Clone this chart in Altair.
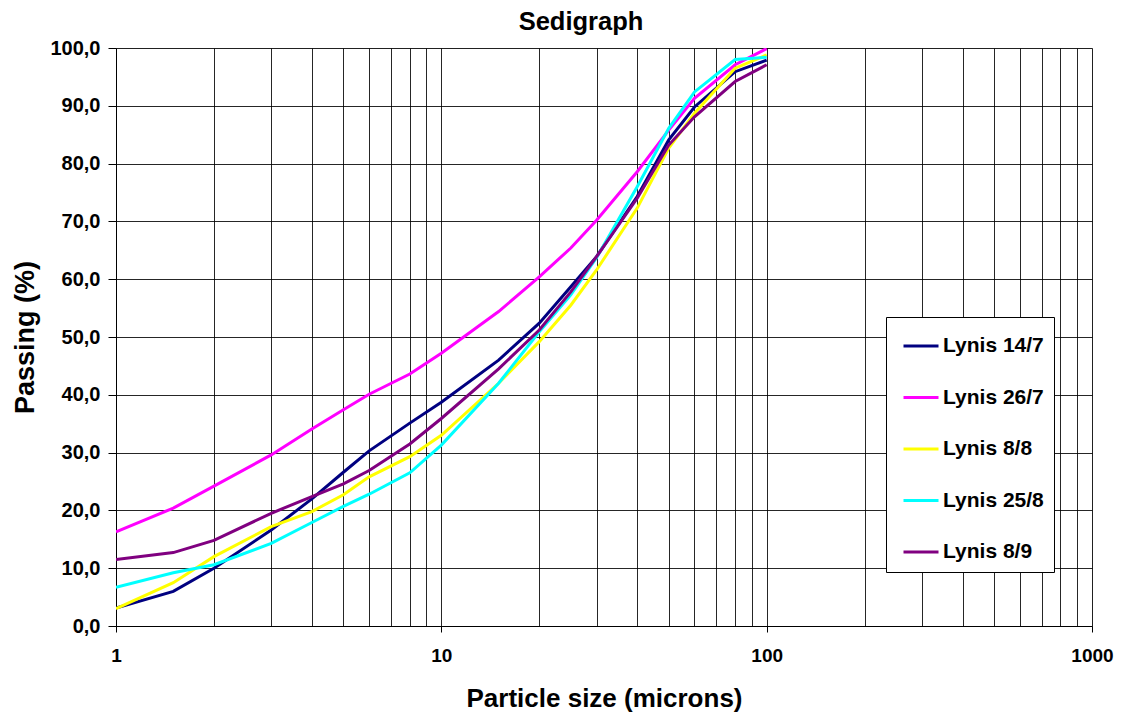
import altair as alt
import pandas as pd

sizes = [1, 1.5, 2, 3, 4, 5, 6, 8, 10, 15, 20, 25, 30, 40, 50, 60, 80, 100]

series_names = ["Lynis 14/7", "Lynis 26/7", "Lynis 8/8", "Lynis 25/8", "Lynis 8/9"]
series_colors = ["#000080", "#FF00FF", "#FFFF00", "#00FFFF", "#800080"]

lynis_14_7 = [3.1, 6.0, 10.0, 16.6, 22.0, 26.6, 30.3, 35.1, 38.7, 46.0, 52.4, 58.7, 63.9, 74.3, 84.1, 89.8, 95.9, 97.9]
lynis_26_7 = [16.3, 20.4, 24.2, 29.6, 34.1, 37.4, 40.1, 43.6, 47.2, 54.4, 60.4, 65.4, 70.2, 78.6, 85.8, 91.3, 97.1, 99.9]
lynis_8_8 = [3.0, 7.5, 12.0, 17.2, 19.8, 22.7, 25.8, 29.3, 33.0, 42.0, 49.2, 55.5, 61.6, 72.3, 82.7, 88.7, 96.5, 98.8]
lynis_25_8 = [6.7, 9.2, 10.6, 14.3, 17.9, 20.7, 22.8, 26.5, 31.3, 42.0, 50.9, 57.3, 63.7, 76.0, 86.1, 92.4, 98.0, 98.4]
lynis_8_9 = [11.5, 12.7, 14.8, 19.5, 22.4, 24.6, 26.9, 31.5, 35.9, 44.5, 51.2, 57.8, 63.9, 74.0, 83.2, 88.1, 94.2, 97.1]

x_grid_values = [1, 2, 3, 4, 5, 6, 7, 8, 9,
                 10, 20, 30, 40, 50, 60, 70, 80, 90,
                 100, 200, 300, 400, 500, 600, 700, 800, 900, 1000]
y_ticks = [0, 10, 20, 30, 40, 50, 60, 70, 80, 90, 100]

all_series = [lynis_14_7, lynis_26_7, lynis_8_8, lynis_25_8, lynis_8_9]
rows = []
for name, vals in zip(series_names, all_series):
    for i, (s, v) in enumerate(zip(sizes, vals)):
        rows.append({"size": s, "passing": v, "series": name, "order": i})
df = pd.DataFrame(rows)

FONT = "Liberation Sans"
major_test = "datum.value == 1 || datum.value == 10 || datum.value == 100 || datum.value == 1000"

chart = alt.Chart(df).mark_line(strokeWidth=3, clip=True).encode(
    x=alt.X("size:Q",
            scale=alt.Scale(type="log", domain=[1, 1000], nice=False),
            axis=alt.Axis(
                title="Particle size (microns)",
                values=x_grid_values,
                labelExpr="(" + major_test + ") ? format(datum.value, 'd') : ''",
                grid=True,
                gridColor="#000000",
                gridOpacity=0.85,
                gridWidth=1,
                tickColor={"condition": {"test": major_test, "value": "#000000"}, "value": "transparent"},
                tickSize=6,
                labelPadding=14,
                labelFontSize=19,
                labelFontWeight="bold",
                labelFont=FONT,
                labelColor="#000000",
                titleFontSize=26,
                titleFontWeight="bold",
                titleFont=FONT,
                titleColor="#000000",
                titlePadding=20,
                domainColor="#000000",
                labelFlush=False,
                labelOverlap=False,
            )),
    y=alt.Y("passing:Q",
            scale=alt.Scale(domain=[0, 100], nice=False),
            axis=alt.Axis(
                title="Passing (%)",
                values=y_ticks,
                labelExpr="replace(format(datum.value, '.1f'), '.', ',')",
                grid=True,
                gridColor="#000000",
                gridOpacity=0.85,
                gridWidth=1,
                tickColor="#000000",
                tickSize=8,
                labelPadding=8,
                labelFontSize=20,
                labelFontWeight="bold",
                labelFont=FONT,
                labelColor="#000000",
                titleFontSize=27,
                titleFontWeight="bold",
                titleFont=FONT,
                titleColor="#000000",
                titlePadding=10,
                domainColor="#000000",
                labelFlush=False,
            )),
    color=alt.Color("series:N",
                    scale=alt.Scale(domain=series_names, range=series_colors),
                    sort=series_names,
                    legend=alt.Legend(
                        title=None,
                        orient="none",
                        legendX=770,
                        legendY=269,
                        symbolType="stroke",
                        symbolSize=1225,
                        symbolStrokeWidth=3,
                        symbolOffset=6,
                        labelFontSize=21,
                        labelFontWeight="bold",
                        labelFont=FONT,
                        labelColor="#000000",
                        labelOffset=3,
                        rowPadding=22.5,
                        padding=10,
                        strokeColor="#000000",
                        fillColor="#ffffff",
                    )),
    order="order:Q",
).properties(
    width=976,
    height=578,
    title=alt.Title("Sedigraph", fontSize=25.5, fontWeight="bold", font=FONT,
                    color="#000000", anchor="middle", dx=-23, offset=3),
    autosize=alt.AutoSizeParams(type="none"),
    padding={"left": 116, "top": 48, "right": 32, "bottom": 87},
).configure_view(
    stroke=None
).configure(background="#ffffff")

chart.save("out.html", embed_options={"renderer": "svg", "actions": False})
